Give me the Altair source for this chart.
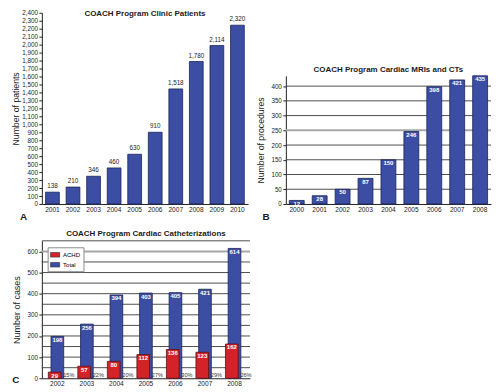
import altair as alt
import pandas as pd

FONT = "Liberation Sans"
BLUE = "#3b4ea4"
BLUE_EDGE = "#1c2558"
RED = "#d42229"
RED_EDGE = "#5c1014"
GRID = "#3a3a3a"
GRID_LIGHT = "#a8a8a8"
INK = "#1a1a1a"

# ---------------- Panel A: clinic patients ----------------
years_a = ["2001", "2002", "2003", "2004", "2005", "2006", "2007", "2008", "2009", "2010"]
patient_labels = [138, 210, 346, 460, 630, 910, 1518, 1780, 2114, 2320]
patient_bars = [148, 212, 348, 452, 624, 900, 1444, 1788, 1988, 2244]

# ---------------- Panel B: cardiac MRIs and CTs ----------------
years_b = ["2000", "2001", "2002", "2003", "2004", "2005", "2006", "2007", "2008"]
procedures = [12, 28, 50, 87, 150, 246, 398, 421, 435]

# ---------------- Panel C: cardiac catheterizations ----------------
years_c = ["2002", "2003", "2004", "2005", "2006", "2007", "2008"]
cath_total = [198, 256, 394, 403, 405, 421, 614]
cath_achd = [29, 57, 80, 112, 136, 123, 162]
cath_pct = ["15%", "22%", "20%", "27%", "30%", "29%", "26%"]

a_ticks = list(range(0, 2401, 100))
b_ticks = list(range(0, 401, 50))
b_grid = list(range(50, 401, 50))
b_grid_light = 250
c_ticks = list(range(0, 601, 100))
c_grid = list(range(50, 651, 50))
c_grid_light = 600

# ---------- A ----------
df_a = pd.DataFrame({
    "year": years_a,
    "bar": patient_bars,
    "label": [f"{v:,}" for v in patient_labels],
})
xa = alt.X(
    "year:N",
    title="A",
    scale=alt.Scale(paddingInner=0.33, paddingOuter=0.18),
    axis=alt.Axis(labelAngle=0, ticks=False, labelFontSize=6.6, labelPadding=2.5,
                  titleX=-18.8, titleY=12.5, titleFontSize=10, titleFontWeight="bold",
                  titleAlign="center", titleBaseline="middle"),
)
ya = alt.Y(
    "bar:Q",
    title="Number of patients",
    scale=alt.Scale(domain=[0, 2400], nice=False),
    axis=alt.Axis(values=a_ticks, format=",d", grid=False, tickSize=3, labelFontSize=6.3,
                  labelOverlap=False, labelPadding=1.5, titleFontSize=8.7,
                  titleFontWeight="normal", titleX=-21.5),
)
base_a = alt.Chart(df_a)
bars_a = base_a.mark_bar(color=BLUE, stroke=BLUE_EDGE, strokeWidth=0.8).encode(x=xa, y=ya)
text_a = base_a.mark_text(baseline="bottom", dy=-3, fontSize=6.3, font=FONT, color=INK).encode(
    x=xa, y=ya, text="label:N")
chart_a = alt.layer(bars_a, text_a).properties(
    width=207, height=192,
    title=alt.TitleParams("COACH Program Clinic Patients", offset=-8, frame="group", anchor="middle"),
)

# ---------- B ----------
df_b = pd.DataFrame({"year": years_b, "n": procedures, "label": [str(v) for v in procedures]})
df_b_grid = pd.DataFrame({"n": b_grid})
xb = alt.X(
    "year:N",
    title="B",
    scale=alt.Scale(paddingInner=0.35, paddingOuter=0.15),
    axis=alt.Axis(labelAngle=0, ticks=False, labelFontSize=6.6, labelPadding=3,
                  titleX=-20.3, titleY=13, titleFontSize=10, titleFontWeight="bold",
                  titleAlign="center", titleBaseline="middle"),
)
yb = alt.Y(
    "n:Q",
    title="Number of procedures",
    scale=alt.Scale(domain=[0, 435], nice=False, range=[192, 63.3]),
    axis=alt.Axis(values=b_ticks, grid=False, tickSize=3, labelFontSize=6.3, labelPadding=1.5,
                  labelOverlap=False, titleFontSize=8.7, titleFontWeight="normal", titleX=-20),
)
grid_b = alt.Chart(df_b_grid).mark_rule().encode(
    y=yb,
    color=alt.condition(alt.datum.n == b_grid_light, alt.value(GRID_LIGHT), alt.value(GRID)),
    strokeWidth=alt.condition(alt.datum.n == b_grid_light, alt.value(2), alt.value(0.9)),
)
base_b = alt.Chart(df_b)
bars_b = base_b.mark_bar(color=BLUE, stroke=BLUE_EDGE, strokeWidth=0.8).encode(x=xb, y=yb)
text_b = base_b.mark_text(baseline="middle", dy=3.2, fontSize=6, font=FONT, fontWeight="bold",
                          color="white").encode(x=xb, y=yb, text="label:N")
chart_b = alt.layer(grid_b, bars_b, text_b).properties(
    width=206, height=192,
    title=alt.TitleParams("COACH Program Cardiac MRIs and CTs", offset=-61, frame="group", anchor="middle"),
)

# ---------- C ----------
df_c = pd.DataFrame({
    "year": years_c * 2,
    "series": ["Total"] * len(years_c) + ["ACHD"] * len(years_c),
    "n": cath_total + cath_achd,
})
df_c["label"] = df_c["n"].astype(str)
df_pct = pd.DataFrame({"year": years_c, "pct": cath_pct})
df_c_grid = pd.DataFrame({"n": c_grid})

xc = alt.X(
    "year:N",
    title="C",
    scale=alt.Scale(paddingInner=0.57, paddingOuter=0.31),
    axis=alt.Axis(labelAngle=0, ticks=False, labelFontSize=6.6, labelPadding=2.5,
                  titleX=-26.5, titleY=1.5, titleFontSize=10, titleFontWeight="bold",
                  titleAlign="center", titleBaseline="middle"),
)
yc_scale = alt.Scale(domain=[0, 650], nice=False)
yc_axis = alt.Axis(values=c_ticks, grid=False, tickSize=3, labelFontSize=6.3, labelPadding=1.5,
                   labelOverlap=False, titleFontSize=9, titleFontWeight="normal", titleX=-20.3)
yc = alt.Y("n:Q", title="Number of cases", scale=yc_scale, axis=yc_axis)
color_c = alt.Color(
    "series:N",
    scale=alt.Scale(domain=["ACHD", "Total"], range=[RED, BLUE]),
    legend=alt.Legend(title=None, orient="none", legendX=5.8, legendY=6.5,
                      fillColor="white", strokeColor="#8a8a8a", padding=2.5,
                      symbolType="M-1,-0.5H1V0.5H-1Z", symbolSize=85,
                      symbolStrokeColor="#333", symbolStrokeWidth=0.6,
                      labelFontSize=6, labelFont=FONT, labelOffset=3, rowPadding=1,
                      symbolOpacity=1),
)
grid_c = alt.Chart(df_c_grid).mark_rule().encode(
    y=yc,
    color=alt.condition(alt.datum.n == c_grid_light, alt.value(GRID_LIGHT), alt.value(GRID)),
    strokeWidth=alt.condition(alt.datum.n == c_grid_light, alt.value(2), alt.value(0.9)),
)
base_c = alt.Chart(df_c)
blue_c = base_c.transform_filter(alt.datum.series == "Total").mark_bar(
    stroke=BLUE_EDGE, strokeWidth=0.8).encode(x=xc, y=yc, fill=color_c)
red_c = base_c.transform_filter(alt.datum.series == "ACHD").mark_bar(
    stroke=RED_EDGE, strokeWidth=0.8, xOffset=-2.7).encode(x=xc, y=yc, fill=color_c)
blue_txt = base_c.transform_filter(alt.datum.series == "Total").mark_text(
    baseline="middle", dy=3.5, fontSize=6, font=FONT, fontWeight="bold", color="white").encode(
    x=xc, y=yc, text="label:N")
red_txt = base_c.transform_filter(alt.datum.series == "ACHD").mark_text(
    baseline="middle", dy=3.5, xOffset=-2.7, fontSize=6, font=FONT, fontWeight="bold",
    color="white").encode(x=xc, y=yc, text="label:N")
pct_txt = alt.Chart(df_pct).mark_text(
    baseline="bottom", dy=-0.5, xOffset=11.5, fontSize=5.6, font=FONT, color="#333").encode(
    x=xc,
    y=alt.YDatum(0, type="quantitative", title="Number of cases", scale=yc_scale, axis=yc_axis),
    text="pct:N")
chart_c = alt.layer(grid_c, blue_c, red_c, blue_txt, red_txt, pct_txt).properties(
    width=209, height=138,
    title=alt.TitleParams("COACH Program Cardiac Catheterizations", offset=2, frame="group", anchor="middle"),
)

top = alt.hconcat(chart_a, chart_b, spacing=9)
chart = alt.vconcat(top, chart_c, spacing=8).resolve_scale(
    fill="independent"
).resolve_legend(fill="independent").properties(
    padding={"left": 3, "top": 1, "right": 0, "bottom": 0}
).configure_view(stroke=None).configure_axis(
    labelFont=FONT, titleFont=FONT, labelColor=INK, titleColor=INK,
    domainColor="#222", tickColor="#222", domainWidth=1,
).configure_title(font=FONT, fontWeight="bold", fontSize=8, color=INK)

chart.save("out.html", embed_options={"renderer": "svg", "actions": False})
